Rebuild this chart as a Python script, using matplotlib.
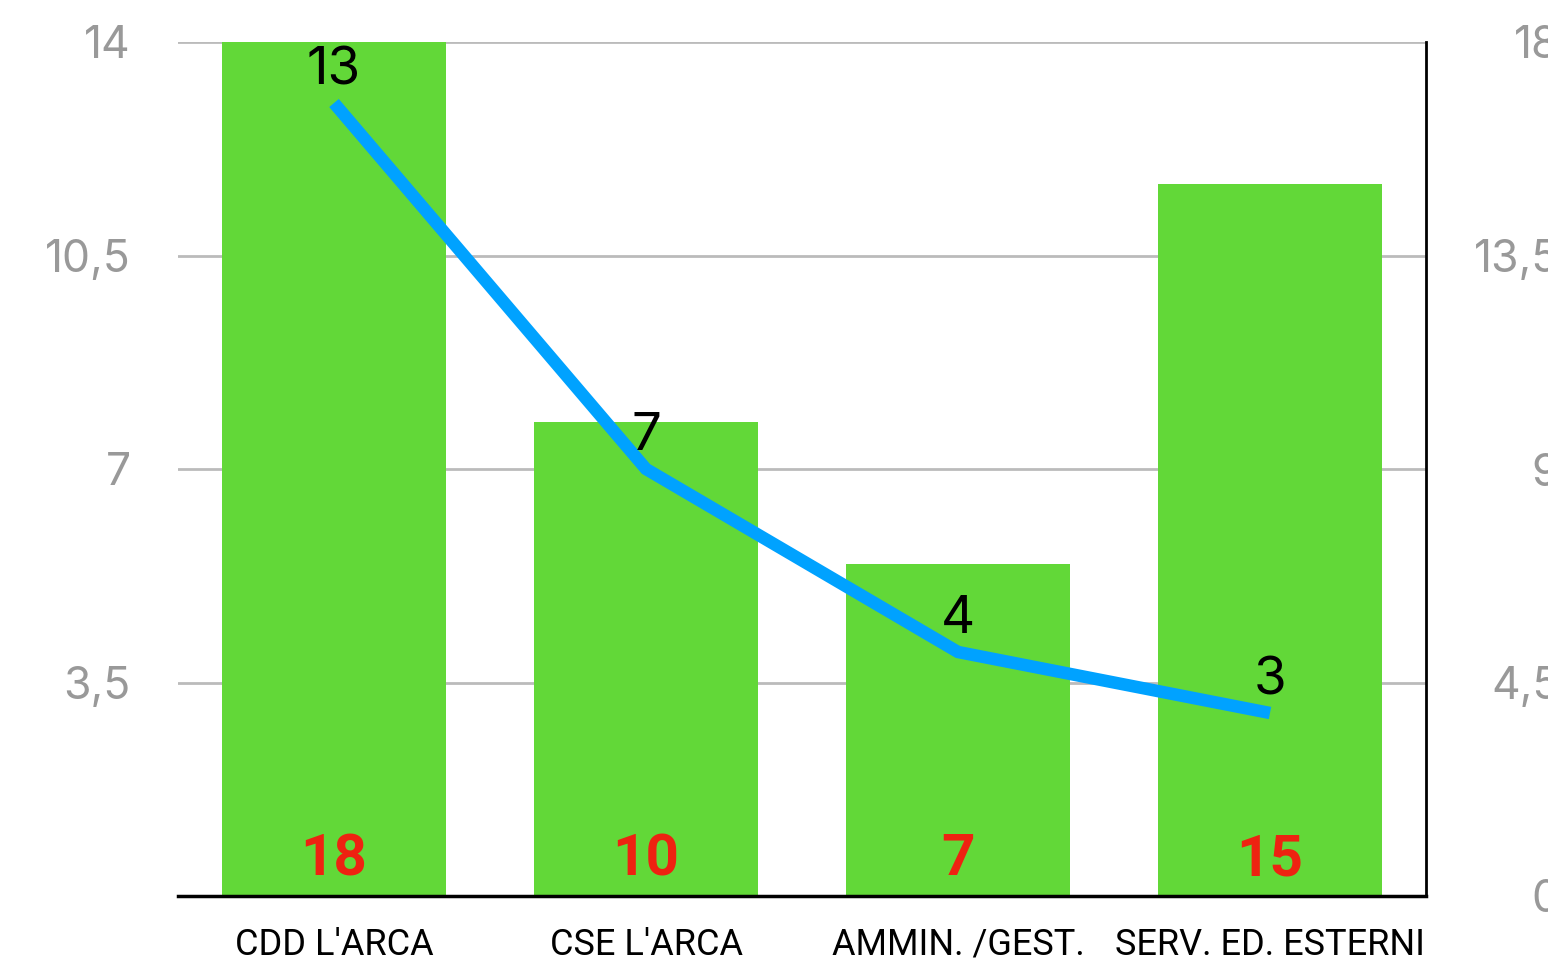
import matplotlib
matplotlib.use("Agg")
import matplotlib.pyplot as plt

categories = ["CDD L'ARCA", "CSE L'ARCA", "AMMIN. /GEST.", "SERV. ED. ESTERNI"]
bar_values = [18, 10, 7, 15]      # right axis, 0-18
line_values = [13, 7, 4, 3]       # left axis, 0-14
left_ticks = [3.5, 7, 10.5, 14]
left_labels = ["3,5", "7", "10,5", "14"]
right_ticks = [0, 4.5, 9, 13.5, 18]
right_labels = ["0", "4,5", "9", "13,5", "18"]

green = "#62D838"
blue = "#00A2FF"
red = "#EE2211"
grey = "#999999"

fig = plt.figure(figsize=(15.48, 9.61), dpi=100)
ax = fig.add_axes([178 / 1548, 1 - 896 / 961, (1426 - 178) / 1548, (896 - 42) / 961])
ax2 = ax.twinx()
x = list(range(len(categories)))

# bars on the right-hand axis
ax.bar(x, bar_values, width=0.718, color=green, zorder=2)
ax.set_ylim(0, 18)
ax.set_xlim(-0.5, 3.5)
ax.set_axisbelow(True)
ax.grid(axis="y", color="#BBBBBB", linewidth=2)
ax.set_xticks(x)
ax.set_xticklabels(categories, family="Roboto", fontsize=26, color="black")
ax.tick_params(axis="x", length=0, pad=22)
for s in ["top", "left"]:
    ax.spines[s].set_visible(False)
ax.spines["bottom"].set_linewidth(2.5)
ax.spines["right"].set_linewidth(2)

for xi, v in zip(x, bar_values):
    ax.text(xi, 0.44, str(v), ha="center", va="baseline", color=red,
            family="Roboto", fontweight="bold", fontsize=42, zorder=3)

# line on the left-hand axis
ax2.plot(x, line_values, color=blue, linewidth=9, solid_capstyle="butt",
         solid_joinstyle="miter")
ax2.set_ylim(0, 14)
for s in ["top", "left", "right", "bottom"]:
    ax2.spines[s].set_visible(False)

for xi, v in zip(x, line_values):
    ax2.text(xi, v + 0.31, str(v), ha="center", va="baseline", color="black",
             family="Inter", fontsize=38)

# tick labels: left axis for the line, right axis for the bars
ax.yaxis.set_ticks_position("right")
ax.set_yticks(right_ticks)
ax.set_yticklabels(right_labels, family="Inter", fontsize=32, color=grey)
ax.tick_params(axis="y", length=0, pad=96)
for lbl in ax.get_yticklabels():
    lbl.set_horizontalalignment("right")

ax2.yaxis.set_ticks_position("left")
ax2.set_yticks(left_ticks)
ax2.set_yticklabels(left_labels, family="Inter", fontsize=32, color=grey)
ax2.tick_params(axis="y", length=0, pad=34)
for lbl in ax.get_yticklabels() + ax2.get_yticklabels():
    lbl.set_verticalalignment("center_baseline")

fig.savefig("out.png", dpi=100)
